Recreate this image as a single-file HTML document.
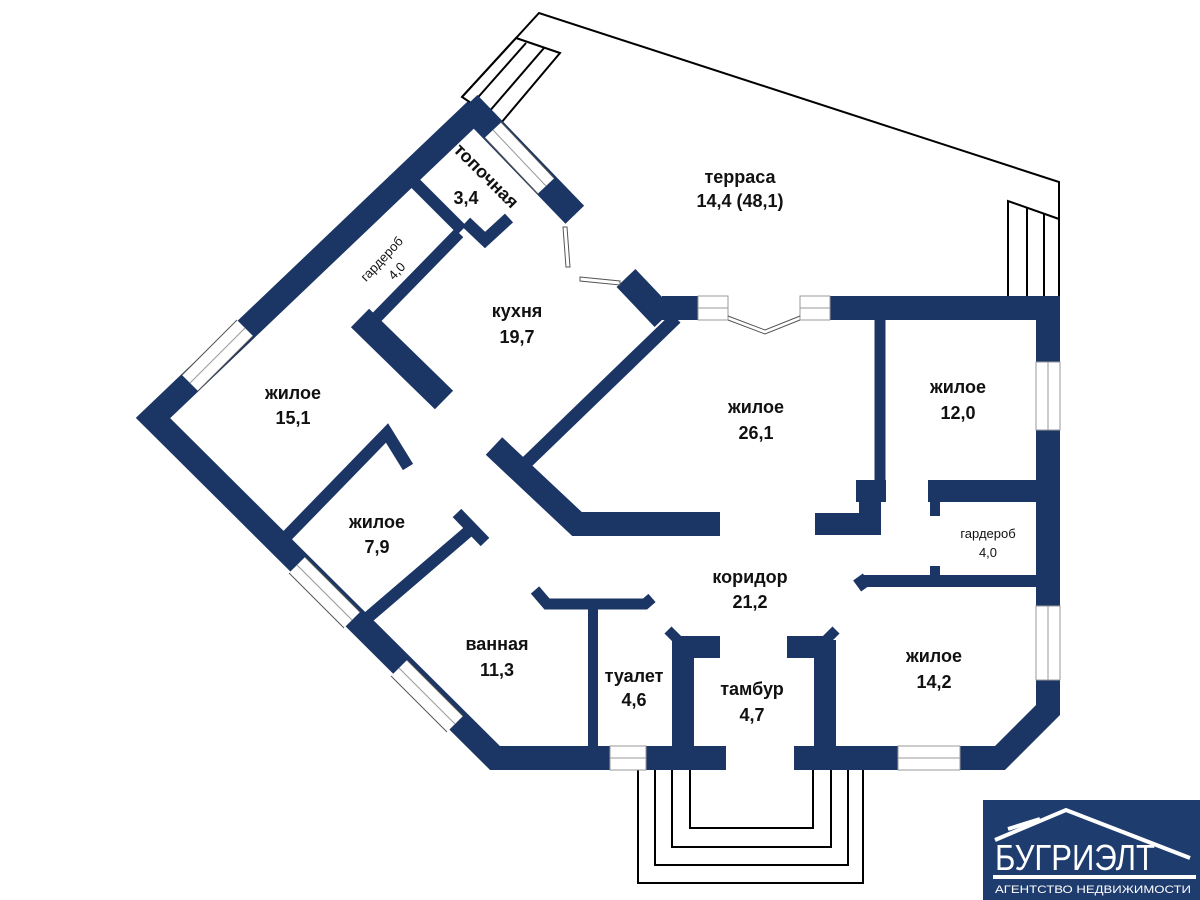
<!DOCTYPE html>
<html><head><meta charset="utf-8"><style>
html,body{margin:0;padding:0;background:#fff;}
svg{display:block}
text{font-family:"Liberation Sans",sans-serif;font-weight:bold;fill:#111;text-anchor:middle}
</style></head><body>
<svg width="1200" height="900" viewBox="0 0 1200 900" xmlns="http://www.w3.org/2000/svg">
<!-- terrace outline -->
<g fill="none" stroke="#000" stroke-width="2">
<polyline points="462,97 539,13 1059,182 1059,297"/>
<polygon points="516,38 560,53 501,123 462,97" fill="none"/>
<line x1="526" y1="43" x2="473" y2="103"/>
<line x1="544" y1="48" x2="488" y2="113"/>
<polyline points="1008,297 1008,201 1059,219"/>
<line x1="1027" y1="208" x2="1027" y2="297"/>
<line x1="1044" y1="213" x2="1044" y2="297"/>
<!-- porch -->
<polyline points="690,768 690,828 813,828 813,768"/>
<polyline points="672,768 672,847 831,847 831,768"/>
<polyline points="655,768 655,865 848,865 848,768"/>
<polyline points="638,768 638,883 863,883 863,768"/>
</g>
<g stroke="#1b3564" fill="none" stroke-linejoin="miter" stroke-linecap="butt">
<!-- outer walls -->
<polyline stroke-width="24" points="476,110 153,418 495,758 1000,758 1048,710 1048,308 662,308"/>
<!-- terrace diagonal wall -->
<line stroke-width="26" x1="468" y1="104" x2="576" y2="216"/>
<line stroke-width="26" x1="626" y1="278" x2="664" y2="318"/>
<!-- kitchen / 26.1 -->
<line stroke-width="13" x1="676" y1="318" x2="527" y2="462"/>
<polyline stroke-width="24" points="494,446 577,524 720,524"/>
<polyline stroke-width="22" points="815,524 870,524 870,490"/>
<line stroke-width="11" x1="880" y1="318" x2="880" y2="500"/>
<rect x="856" y="480" width="30" height="22" fill="#1b3564" stroke="none"/>
<!-- garderob right -->
<line stroke-width="22" x1="928" y1="491" x2="1040" y2="491"/>
<line stroke-width="10" x1="935" y1="491" x2="935" y2="516"/>
<line stroke-width="10" x1="935" y1="566" x2="935" y2="580"/>
<line stroke-width="12" x1="862" y1="581" x2="1040" y2="581"/>
<line stroke-width="12" x1="858" y1="577" x2="866" y2="588"/>
<!-- kitchen left -->
<line stroke-width="26" x1="360" y1="318" x2="444" y2="400"/>
<rect x="420" y="384" width="16" height="14" fill="#1b3564" stroke="none" transform="rotate(45 428 391)"/>
<line stroke-width="12" x1="376" y1="318" x2="459" y2="233"/>
<line stroke-width="12" x1="412" y1="180" x2="462" y2="230"/>
<polyline stroke-width="12" points="466,222 485,240 509,218"/>
<!-- 7.9 room -->
<polyline stroke-width="12" points="283,540 387,433 408,467"/>
<line stroke-width="12" x1="365" y1="620" x2="470" y2="530"/>
<line stroke-width="12" x1="457" y1="513" x2="485" y2="542"/>
<!-- bath / toilet -->
<polyline stroke-width="11" points="535,590 547,604 645,604 652,598"/>
<line stroke-width="10" x1="593" y1="604" x2="593" y2="752"/>
<!-- tambur -->
<line stroke-width="22" x1="683" y1="640" x2="683" y2="752"/>
<rect x="672" y="636" width="48" height="22" fill="#1b3564" stroke="none"/>
<line stroke-width="10" x1="668" y1="630" x2="680" y2="642"/>
<line stroke-width="22" x1="825" y1="640" x2="825" y2="752"/>
<rect x="787" y="636" width="38" height="22" fill="#1b3564" stroke="none"/>
<line stroke-width="10" x1="836" y1="630" x2="824" y2="642"/>
</g>
<!-- windows & openings (white over walls) -->
<g stroke="#fff" stroke-width="22">
<line x1="245" y1="328" x2="190" y2="383"/>
<line x1="297" y1="565" x2="352" y2="620"/>
<line x1="399" y1="668" x2="455" y2="724"/>
<line x1="493" y1="130" x2="546" y2="186"/>
</g>
<g fill="#fff" stroke="none">
<rect x="610" y="746" width="36" height="24"/>
<rect x="726" y="744" width="68" height="28"/>
<rect x="898" y="746" width="62" height="24"/>
<rect x="1036" y="362" width="24" height="68"/>
<rect x="1036" y="606" width="24" height="74"/>
<rect x="698" y="296" width="30" height="24"/>
<rect x="728" y="294" width="72" height="28"/>
<rect x="800" y="296" width="30" height="24"/>
<rect x="720" y="512" width="95" height="24"/>
<rect x="576" y="205" width="50" height="80" transform="rotate(-44 601 245)"/>
</g>
<g stroke="#999" stroke-width="1" fill="none">
<rect x="610" y="746" width="36" height="24"/><line x1="610" y1="758" x2="646" y2="758"/>
<rect x="898" y="746" width="62" height="24"/><line x1="898" y1="758" x2="960" y2="758"/>
<rect x="1036" y="362" width="24" height="68"/><line x1="1048" y1="362" x2="1048" y2="430"/>
<rect x="1036" y="606" width="24" height="74"/><line x1="1048" y1="606" x2="1048" y2="680"/>
<rect x="698" y="296" width="30" height="24"/><line x1="698" y1="308" x2="728" y2="308"/>
<rect x="800" y="296" width="30" height="24"/><line x1="800" y1="308" x2="830" y2="308"/>
<line x1="245" y1="328" x2="190" y2="383"/>
<line x1="297" y1="565" x2="352" y2="620"/>
<line x1="399" y1="668" x2="455" y2="724"/>
<line x1="493" y1="130" x2="546" y2="186"/>
<line x1="253" y1="336" x2="198" y2="391" stroke="#555"/>
<line x1="237" y1="320" x2="182" y2="375" stroke="#555"/>
<line x1="289" y1="573" x2="344" y2="628" stroke="#555"/>
<line x1="305" y1="557" x2="360" y2="612" stroke="#555"/>
<line x1="391" y1="676" x2="447" y2="732" stroke="#555"/>
<line x1="407" y1="660" x2="463" y2="716" stroke="#555"/>
<line x1="485" y1="138" x2="538" y2="194" stroke="#555"/>
<line x1="501" y1="122" x2="554" y2="178" stroke="#555"/>
</g>
<!-- door leaves -->
<g fill="#fff" stroke="#555" stroke-width="1">
<polygon points="563,227 567,227 570,267 566,267"/>
<polygon points="580,277 620,281 620,285 580,281"/>
<polyline fill="none" points="728,316 765,330 800,316"/>
<polyline fill="none" points="728,320 765,334 800,320"/>
</g>
<!-- labels -->
<g font-size="18">
<text x="740" y="183">терраса</text>
<text x="740" y="207">14,4 (48,1)</text>
<text x="517" y="317">кухня</text>
<text x="517" y="343">19,7</text>
<text x="293" y="399">жилое</text>
<text x="293" y="424">15,1</text>
<text x="756" y="413">жилое</text>
<text x="756" y="439">26,1</text>
<text x="958" y="393">жилое</text>
<text x="958" y="419">12,0</text>
<text x="377" y="528">жилое</text>
<text x="377" y="553">7,9</text>
<text x="750" y="583">коридор</text>
<text x="750" y="608">21,2</text>
<text x="497" y="650">ванная</text>
<text x="497" y="676">11,3</text>
<text x="634" y="682">туалет</text>
<text x="634" y="706">4,6</text>
<text x="752" y="695">тамбур</text>
<text x="752" y="721">4,7</text>
<text x="934" y="662">жилое</text>
<text x="934" y="688">14,2</text>
<text x="466" y="204">3,4</text>
</g>
<text font-size="18" x="482" y="180" transform="rotate(45 482 180)">топочная</text>
<g font-size="13" font-weight="normal">
<text x="385" y="262" transform="rotate(-47 385 262)" style="font-weight:normal">гардероб</text>
<text x="400" y="274" transform="rotate(-47 400 274)" style="font-weight:normal">4,0</text>
<text x="988" y="538" style="font-weight:normal">гардероб</text>
<text x="988" y="557" style="font-weight:normal">4,0</text>
</g>
<!-- logo -->
<rect x="983" y="800" width="217" height="100" fill="#1f3c6e"/>
<g stroke="#fff" stroke-width="4" fill="none">
<polyline points="995,840 1066,810 1190,858"/>
<line x1="1008" y1="829" x2="1040" y2="819"/>
<line x1="993" y1="877" x2="1196" y2="877"/>
</g>
<text x="1075" y="870" font-size="36" style="fill:#fff;font-weight:normal" textLength="160" lengthAdjust="spacingAndGlyphs">БУГРИЭЛТ</text>
<text x="1093" y="893" font-size="11" style="fill:#fff;font-weight:normal" textLength="196" lengthAdjust="spacingAndGlyphs">АГЕНТСТВО НЕДВИЖИМОСТИ</text>
</svg>
</body></html>
